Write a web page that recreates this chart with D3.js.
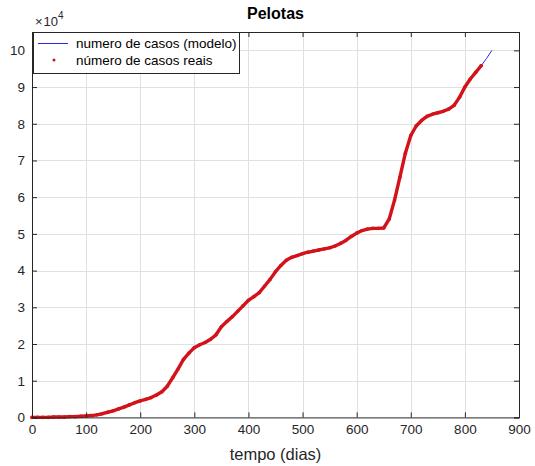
<!DOCTYPE html>
<html>
<head>
<meta charset="utf-8">
<script src="https://cdn.jsdelivr.net/npm/d3@7"></script>
<style>
  body { margin: 0; background: #fff; }
  svg { display: block; font-family: "Liberation Sans", Arial, sans-serif; }
  .tick text { fill: #262626; }
</style>
</head>
<body>
<div id="chart"></div>
<script>
// dias (tempo) and casos acumulados
var dias = [0,10,20,30,40,50,60,70,80,90,
    100,110,120,130,140,150,160,170,180,190,
    200,210,220,230,240,250,260,270,280,290,
    300,310,320,330,340,350,360,370,380,390,
    400,410,420,430,440,450,460,470,480,490,
    500,510,520,530,540,550,560,570,580,590,
    600,610,620,630,640,650,660,670,680,690,
    700,710,720,730,740,750,760,770,780,790,
    800,810,820,830];
var casosReais = [0,0,0,0,100,100,100,200,200,300,
    400,500,700,1000,1400,1800,2300,2800,3400,4000,
    4500,4900,5400,6100,7000,8500,10800,13200,15800,17500,
    19000,19800,20400,21300,22500,24700,26100,27400,28900,30400,
    31900,32900,34000,35800,37600,39700,41400,42800,43600,44100,
    44600,45000,45300,45600,45900,46200,46700,47400,48200,49300,
    50200,50900,51300,51500,51500,51600,54000,59200,65500,72000,
    76800,79400,80900,82000,82600,83000,83400,84000,85000,87200,
    90000,92200,94000,95800];
// the model follows the data and goes on a bit further
var diasExtra = [840, 850];
var casosExtra = [97800, 100000];

var xTicks = [0,100,200,300,400,500,600,700,800,900];
var yTicks = [0,10000,20000,30000,40000,50000,60000,70000,80000,90000,100000];

var width = 535, height = 466;
var margin = {left: 32, right: 16, top: 32, bottom: 48.6};

var svg = d3.select('#chart').append('svg')
    .attr('width', width)
    .attr('height', height);

var x = d3.scaleLinear().domain([0, 900]).range([margin.left, width - margin.right]);
var y = d3.scaleLinear().domain([0, 105000]).range([height - margin.bottom, margin.top]);

var modelo = dias.map(function(d, i) { return [d, casosReais[i]]; })
    .concat(diasExtra.map(function(d, i) { return [d, casosExtra[i]]; }));
var reais = dias.map(function(d, i) { return [d, casosReais[i]]; });

// plot background
svg.append('rect')
    .attr('x', x(0)).attr('y', y(105000))
    .attr('width', x(900) - x(0)).attr('height', y(0) - y(105000))
    .attr('fill', '#fff');

// grid
var grid = svg.append('g').attr('stroke', '#e0e0e0').attr('stroke-width', 1);
grid.selectAll('.gx').data(xTicks.slice(1, -1)).enter().append('line')
    .attr('x1', function(d) { return Math.round(x(d)) + 0.5; })
    .attr('x2', function(d) { return Math.round(x(d)) + 0.5; })
    .attr('y1', y(0)).attr('y2', y(105000));
grid.selectAll('.gy').data(yTicks.slice(1)).enter().append('line')
    .attr('y1', function(d) { return Math.round(y(d)) + 0.5; })
    .attr('y2', function(d) { return Math.round(y(d)) + 0.5; })
    .attr('x1', x(0)).attr('x2', x(900));

// model line
var line = d3.line().x(function(d) { return x(d[0]); }).y(function(d) { return y(d[1]); });
svg.append('path')
    .datum(modelo)
    .attr('d', line)
    .attr('fill', 'none')
    .attr('stroke', '#2a2ad8')
    .attr('stroke-width', 1);

// real cases, dense dots
svg.append('path')
    .datum(reais)
    .attr('d', line)
    .attr('fill', 'none')
    .attr('stroke', '#d3121a')
    .attr('stroke-width', 3.4)
    .attr('stroke-linejoin', 'round')
    .attr('stroke-linecap', 'round');
svg.append('g').selectAll('circle')
    .data(reais)
    .enter().append('circle')
    .attr('cx', function(d) { return x(d[0]); })
    .attr('cy', function(d) { return y(d[1]); })
    .attr('r', 1.8)
    .attr('fill', '#d3121a');

// axes, ticks inward on all four sides
var fmtY = function(d) { return d / 10000; };
var axB = svg.append('g')
    .attr('transform', 'translate(0,' + y(0) + ')')
    .call(d3.axisBottom(x).tickValues(xTicks).tickSize(-5).tickPadding(7));
var axL = svg.append('g')
    .attr('transform', 'translate(' + x(0) + ',0)')
    .call(d3.axisLeft(y).tickValues(yTicks).tickFormat(fmtY).tickSize(-5).tickPadding(7));
var axT = svg.append('g')
    .attr('transform', 'translate(0,' + y(105000) + ')')
    .call(d3.axisTop(x).tickValues(xTicks).tickSize(-5).tickFormat(''));
var axR = svg.append('g')
    .attr('transform', 'translate(' + x(900) + ',0)')
    .call(d3.axisRight(y).tickValues(yTicks).tickSize(-5).tickFormat(''));

[axB, axL, axT, axR].forEach(function(a) {
    a.select('.domain').attr('stroke', '#262626').attr('stroke-width', 1);
    a.selectAll('.tick line').attr('stroke', '#262626');
    a.selectAll('text').attr('font-size', '13.5px').attr('font-family', '"Liberation Sans", Arial, sans-serif');
});

// exponent label
var expo = svg.append('text')
    .attr('x', 35).attr('y', 26)
    .attr('font-size', '13px')
    .attr('fill', '#262626');
expo.append('tspan').text('\u00d7');
expo.append('tspan').attr('dx', 1).text('10');
expo.append('tspan').attr('dy', -7).attr('font-size', '10px').text('4');

// title and x label
svg.append('text')
    .attr('x', (x(0) + x(900)) / 2).attr('y', 19)
    .attr('text-anchor', 'middle')
    .attr('font-size', '16px')
    .attr('font-weight', 'bold')
    .attr('fill', '#000')
    .text('Pelotas');

svg.append('text')
    .attr('x', (x(0) + x(900)) / 2).attr('y', 460)
    .attr('text-anchor', 'middle')
    .attr('font-size', '16.5px')
    .attr('fill', '#262626')
    .text('tempo (dias)');

// legend
var legend = svg.append('g').attr('transform', 'translate(' + (x(0) + 1) + ',' + (y(105000)) + ')');
legend.append('rect')
    .attr('x', 0.5).attr('y', 0.5)
    .attr('width', 206).attr('height', 41)
    .attr('fill', '#fff')
    .attr('stroke', '#262626')
    .attr('stroke-width', 1);
legend.append('line')
    .attr('x1', 5).attr('x2', 35)
    .attr('y1', 11.5).attr('y2', 11.5)
    .attr('stroke', '#2a2ad8').attr('stroke-width', 1);
legend.append('circle')
    .attr('cx', 21).attr('cy', 28)
    .attr('r', 1.5)
    .attr('fill', '#d3121a');
legend.append('text')
    .attr('x', 43).attr('y', 16)
    .attr('font-size', '13.5px').attr('fill', '#000')
    .text('numero de casos (modelo)');
legend.append('text')
    .attr('x', 43).attr('y', 33)
    .attr('font-size', '13.5px').attr('fill', '#000')
    .text('número de casos reais');
</script>
</body>
</html>
